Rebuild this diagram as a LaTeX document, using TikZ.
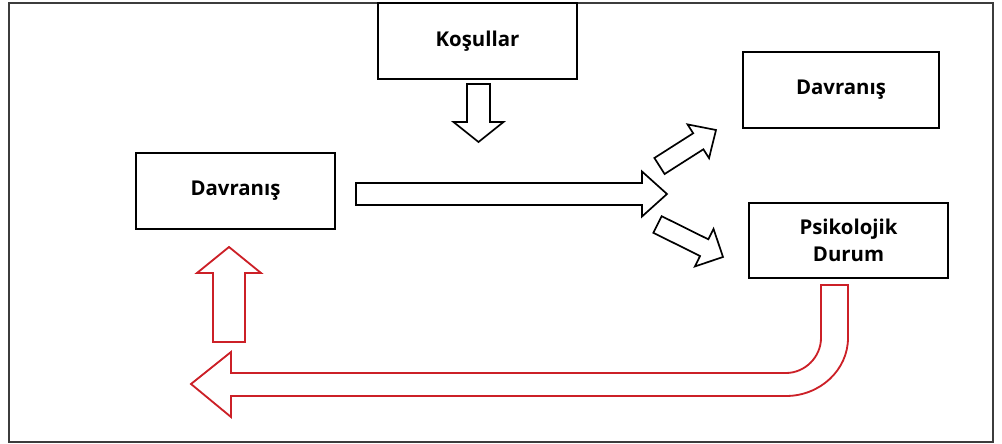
\documentclass[tikz,border=0pt]{standalone}
\usepackage{fontspec}
\setmainfont{Open Sans}
\usepackage{tikz}
\usetikzlibrary{shapes,arrows,calc}
\usepackage{xcolor}

\definecolor{loopred}{RGB}{204,32,39}
\definecolor{framegray}{RGB}{60,60,60}
\newcommand{\pu}{0.025cm}
% outlined block arrow: tail, tip, half shaft, half head, head length (in px)
\newcommand{\blockarrow}[6][]{%
  \path (#2) coordinate (ba-tail) (#3) coordinate (ba-tip);
  \path ($(ba-tip)!#6*\pu!(ba-tail)$) coordinate (ba-base);
  \draw[#1] ($(ba-tail)!#4*\pu!90:(ba-tip)$) -- ($(ba-base)!#4*\pu!90:(ba-tip)$)
    -- ($(ba-base)!#5*\pu!90:(ba-tip)$) -- (ba-tip)
    -- ($(ba-base)!#5*\pu!-90:(ba-tip)$) -- ($(ba-base)!#4*\pu!-90:(ba-tip)$)
    -- ($(ba-tail)!#4*\pu!-90:(ba-tip)$) -- cycle;}

\begin{document}
\begin{tikzpicture}[x=0.025cm, y=-0.025cm,
    box/.style={draw, line width=1.4pt, inner sep=0pt, align=center,
      minimum height=1.9cm, font=\fontsize{14.5}{19}\selectfont\bfseries},
    blk/.style={draw=black, line width=1.2pt, fill=white},
    redblk/.style={draw=loopred, line width=1.3pt, fill=white}]
		\useasboundingbox (0,0) rectangle (1002,444);
		\draw[framegray, line width=1.6pt] (9,3) rectangle (993,442);

		% boxes
		\node[box, minimum width=4.975cm] (kosul) at (477.5,41) {Koşullar};
		\node[box, minimum width=4.975cm] (davL) at (235.5,191) {Davranış};
		\node[box, minimum width=4.9cm] (davR) at (841,90) {Davranış};
		\node[box, minimum width=4.975cm, minimum height=1.875cm] (psiko) at (848.5,240.5) {Psikolojik\\Durum};

		% arrow ends
		\coordinate (kosulOut) at (478.5,84);
		\coordinate (kosulIn) at (478.5,142);
		\coordinate (davOut) at (356,194);
		\coordinate (split) at (667,194);
		\coordinate (upTail) at (659.5,166);
		\coordinate (upTip) at (716,130);
		\coordinate (dnTail) at (657.5,224.5);
		\coordinate (dnTip) at (723,257);
		\coordinate (backTail) at (229,342);
		\coordinate (backTip) at (229,247);

		\blockarrow[blk]{kosulOut}{kosulIn}{11.5}{25}{20}
		\blockarrow[blk]{davOut}{split}{11}{22.5}{25}
		\blockarrow[blk]{upTail}{upTip}{9.5}{20}{21}
		\blockarrow[blk]{dnTail}{dnTip}{9.3}{21}{21}
		\blockarrow[redblk]{backTail}{backTip}{16}{32}{26}

		% feedback loop
		\draw[redblk] (821,285) -- (848,285) -- (848,338)
			.. controls (848,370) and (820,396) .. (786,396)
			-- (231,396) -- (231,417) -- (191,384) -- (231,352) -- (231,373)
			-- (786,373) .. controls (805,373) and (821,357) .. (821,338) -- cycle;
\end{tikzpicture}
\end{document}
